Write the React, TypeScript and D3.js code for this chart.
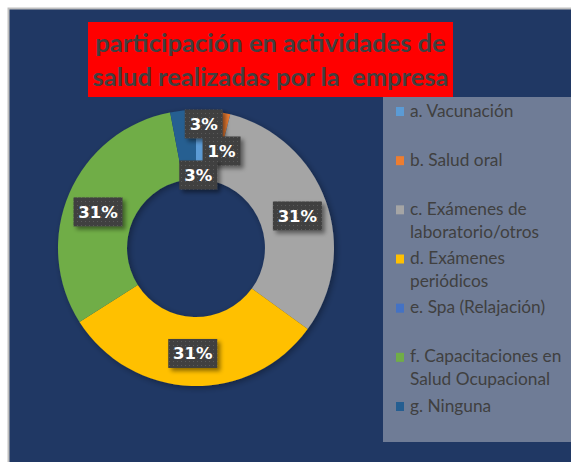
import React from "react";
import * as d3 from "d3";

const titleLines = ["participación en actividades de", "salud realizadas por la  empresa"];
const categories = [
  "a. Vacunación",
  "b. Salud oral",
  "c. Exámenes de\nlaboratorio/otros",
  "d. Exámenes\nperiódicos",
  "e. Spa (Relajación)",
  "f. Capacitaciones en\nSalud Ocupacional",
  "g. Ninguna",
];
const values = [3, 1, 31, 31, 0, 31, 3];
const colors = ["#5b9bd5", "#ed7d31", "#a5a5a5", "#ffc000", "#4472c4", "#70ad47", "#255e91"];
// label nudges relative to arc centroid (layout, not data)
const labelNudge: [number, number][] = [[-2, -21], [3, 4], [4, 3], [0, 2], [0, 0], [-3, 5], [12, 30]];

const W = 571, H = 462;
const cx = 196, cy = 248, rOuter = 138, rInner = 69;

export default function App() {
  const total = d3.sum(values);
  const pie = d3.pie<number>().sort(null).value((d) => d).startAngle(0).endAngle(2 * Math.PI);
  const arcs = pie(values);
  const arc = d3.arc<d3.PieArcDatum<number>>().innerRadius(rInner).outerRadius(rOuter);
  const midArc = d3.arc<d3.PieArcDatum<number>>().innerRadius((rInner + rOuter) / 2).outerRadius((rInner + rOuter) / 2);
  const legendY = d3.scaleLinear().domain([0, categories.length - 1]).range([107, 402]);
  const fmt = (v: number) => `${Math.round((v / total) * 100)}%`;

  return (
    <svg width={W} height={H} style={{ position: "absolute", left: 0, top: 0 }}>
      <defs>
        <pattern id="dots" width="4" height="4" patternUnits="userSpaceOnUse">
          <rect width="4" height="4" fill="#3f3f3f" />
          <rect x="1" y="1" width="1" height="1" fill="#5a5a5a" />
        </pattern>
        <filter id="shadow" x="-30%" y="-30%" width="160%" height="160%">
          <feDropShadow dx="3" dy="3" stdDeviation="2" floodColor="#000" floodOpacity="0.45" />
        </filter>
        <filter id="pieShadow" x="-20%" y="-20%" width="140%" height="140%">
          <feDropShadow dx="2" dy="2" stdDeviation="3" floodColor="#000" floodOpacity="0.35" />
        </filter>
      </defs>
      <rect x={0} y={0} width={W} height={H} fill="#ffffff" />
      <rect x={8.5} y={8.5} width={W} height={H} fill="#203864" stroke="#bfbfbf" strokeWidth={2} />
      {/* title */}
      <rect x={88} y={22} width={365} height={75} fill="#ff0000" />
      {titleLines.map((t, i) => (
        <text key={i} x={270.5} y={52 + i * 34} textAnchor="middle" fontFamily="Lato" fontWeight="bold" fontSize={25.5} fill="#404040" style={{ whiteSpace: "pre" }}>
          {t}
        </text>
      ))}
      {/* legend */}
      <rect x={383} y={97} width={W - 383} height={345} fill="#6f7c96" />
      {categories.map((c, i) => {
        const y = legendY(i);
        return (
          <g key={c}>
            <rect x={396} y={y} width={8} height={9} fill={colors[i]} />
            {c.split("\n").map((ln, j) => (
              <text key={j} x={410} y={y + 9.5 + j * 23} fontFamily="Lato" fontSize={17.3} fill="#404040">
                {ln}
              </text>
            ))}
          </g>
        );
      })}
      {/* donut */}
      <g transform={`translate(${cx},${cy})`} filter="url(#pieShadow)">
        {arcs.map((a, i) => (
          <path key={i} d={arc(a) || ""} fill={colors[i]} />
        ))}
      </g>
      <g transform={`translate(${cx},${cy})`}>
        {arcs.map((a, i) => {
          if (a.data === 0) return null;
          const [mx, my] = midArc.centroid(a);
          const x = mx + labelNudge[i][0];
          const y = my + labelNudge[i][1];
          const label = fmt(a.data);
          const w = label.length === 3 ? 49 : 38;
          const h = 29;
          return (
            <g key={i}>
              <rect x={x - w / 2} y={y - h / 2} width={w} height={h} fill="url(#dots)" filter="url(#shadow)" />
              <text x={x} y={y + 6} textAnchor="middle" fontFamily="DejaVu Sans" fontWeight="bold" fontSize={16.5} fill="#ffffff">
                {label}
              </text>
            </g>
          );
        })}
      </g>
    </svg>
  );
}
